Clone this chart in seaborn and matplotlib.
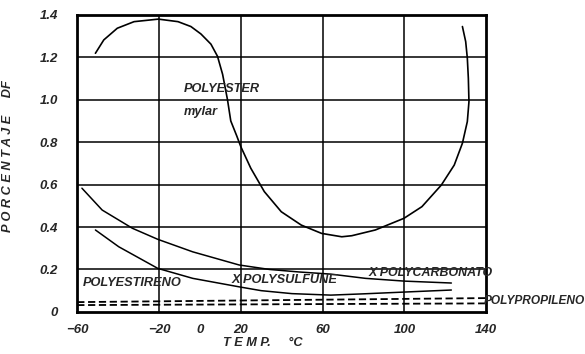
import seaborn as sns
from matplotlib import pyplot as plt

sns.set_style("white")
plt.rcParams['font.family'] = ['Liberation Sans', 'DejaVu Sans']

# polyester (mylar) curve, loops back on itself so kept in drawing order
mylar_temp = [-51.1, -47, -40.4, -32.2, -20.3, -10.7, -4.4, 0.5, 5.4, 8.6,
              11.1, 13.5, 15.1, 18, 20, 24.9, 31.5, 39.8, 49.6, 59.5, 64.4, 69.4,
              74.3, 85.8, 99.8, 108.6, 118.1, 124.4, 128.4, 130.8, 131.6, 131.3,
              130.8, 130, 128.4]
mylar_df = [1.219, 1.282, 1.337, 1.368, 1.38, 1.368, 1.345, 1.31, 1.262, 1.205,
            1.12, 1.0, 0.9, 0.83, 0.779, 0.677, 0.567, 0.472, 0.409,
            0.37, 0.362, 0.354, 0.359, 0.386, 0.441, 0.496, 0.598, 0.692, 0.795,
            0.897, 0.991, 1.101, 1.196, 1.274, 1.345]

carb_temp = [-57.7, -47.8, -33, -20.6, -3.5, 19.2, 34, 48.6, 64, 81, 100, 123]
carb_df = [0.583, 0.48, 0.394, 0.342, 0.283, 0.221, 0.2, 0.188, 0.178, 0.158, 0.145, 0.136]

sulf_temp = [-51.1, -39.7, -20.6, -3.5, 19.2, 30, 45, 64, 80, 99, 123]
sulf_df = [0.386, 0.307, 0.205, 0.158, 0.118, 0.10, 0.086, 0.079, 0.085, 0.093, 0.103]

estireno_temp = [-60, 140]
estireno_df = [0.046, 0.065]
propileno_temp = [-60, 140]
propileno_df = [0.032, 0.04]

x_ticks = [-60, -20, 0, 20, 60, 100, 140]
x_grid = [-20, 20, 60, 100]
y_ticks = [0, 0.2, 0.4, 0.6, 0.8, 1.0, 1.2, 1.4]
y_labels = ['0', '0.2', '0.4', '0.6', '0.8', '1.0', '1.2', '1.4']

fig = plt.figure(figsize=(5.85, 3.54), dpi=100)
ax = fig.add_axes([0.132, 0.119, 0.699, 0.839])

for v in x_grid:
    ax.axvline(v, color='black', lw=1.1, zorder=1)
for v in y_ticks[1:-1]:
    ax.axhline(v, color='black', lw=1.1, zorder=1)

sns.lineplot(x=mylar_temp, y=mylar_df, sort=False, estimator=None, color='black', lw=1.2, ax=ax)
sns.lineplot(x=carb_temp, y=carb_df, estimator=None, color='black', lw=1.1, ax=ax)
sns.lineplot(x=sulf_temp, y=sulf_df, estimator=None, color='black', lw=1.1, ax=ax)
sns.lineplot(x=estireno_temp, y=estireno_df, estimator=None, color='black', lw=1.3,
             linestyle=(0, (4, 2)), ax=ax)
sns.lineplot(x=propileno_temp, y=propileno_df, estimator=None, color='black', lw=1.3,
             linestyle=(0, (4, 2)), ax=ax)

ax.set_xlim(-60, 140)
ax.set_ylim(0, 1.4)
ax.set_xticks(x_ticks)
ax.set_yticks(y_ticks)
ax.set_yticklabels(y_labels)
for lab in ax.get_xticklabels() + ax.get_yticklabels():
    lab.set_fontweight('bold')
    lab.set_fontstyle('italic')
    lab.set_fontsize(9.5)
ax.tick_params(axis='x', length=0, pad=9)
ax.tick_params(axis='y', length=0, pad=14)
for s in ax.spines.values():
    s.set_linewidth(2)
    s.set_color('black')

lab_font = dict(fontsize=9.2, fontweight='bold', fontstyle='italic')
ax.set_xlabel('T E M P.     °C', **lab_font)
ax.xaxis.set_label_coords(0.455, -0.085)
ax.set_ylabel('P O R C E N T A J E     DF', **lab_font)
ax.yaxis.set_label_coords(-0.155, 0.525)

ax.text(-7.7, 1.05, 'POLYESTER', **lab_font, va='center')
ax.text(-7.7, 0.94, 'mylar', **lab_font, va='center')
ax.text(-57.5, 0.135, 'POLYESTIRENO', **lab_font, va='center')
ax.text(15.5, 0.15, 'X POLYSULFUNE', **lab_font, va='center')
ax.text(82.5, 0.185, 'X POLYCARBONATO', fontsize=8.9, fontweight='bold',
        fontstyle='italic', va='center')
ax.text(139, 0.05, 'POLYPROPILENO', fontsize=8.6, fontweight='bold',
        fontstyle='italic', va='center')

plt.savefig('out.png', dpi=100)
